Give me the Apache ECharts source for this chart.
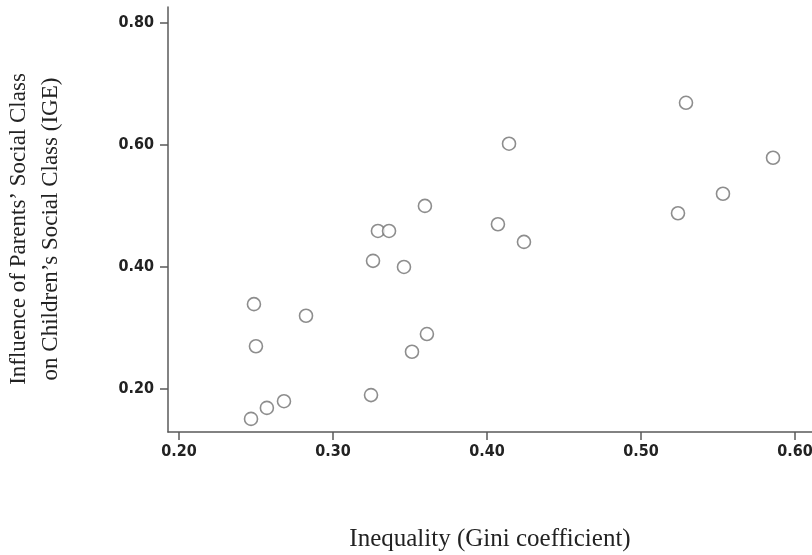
<!DOCTYPE html>
<html><head><meta charset="utf-8">
<script src="https://cdn.jsdelivr.net/npm/echarts@6/dist/echarts.min.js"></script>
<style>html,body{margin:0;padding:0;background:#fff}#c{width:812px;height:555px}</style>
</head><body><div id="c"></div>
<script>
const gini = [0.2487,0.2500,0.2825,0.2468,0.2571,0.2682,0.3247,0.3513,0.3610,0.3260,0.3461,0.3292,0.3364,0.3597,0.4143,0.4071,0.4240,0.5240,0.5292,0.5532,0.5857];
const ige  = [0.339,0.270,0.320,0.151,0.169,0.180,0.190,0.261,0.290,0.410,0.400,0.459,0.459,0.500,0.602,0.470,0.441,0.488,0.669,0.520,0.579];
const xTicks = [0.20,0.30,0.40,0.50,0.60];
const yTicks = [0.20,0.40,0.60,0.80];
const xTitle = 'Inequality (Gini coefficient)';
const yTitle = "Influence of Parents\u2019 Social Class\non Children\u2019s Social Class (IGE)";

const chart = echarts.init(document.getElementById('c'), null, {renderer:'canvas'});
const tickFont = {fontFamily:'"Liberation Sans Narrow","DejaVu Sans Condensed",sans-serif', fontWeight:'bold', fontSize:16, color:'#222'};
const axisLine = {show:true, lineStyle:{color:'#5a5a5a', width:1.5}};
chart.setOption({
  animation:false,
  grid:{left:168, right:0, top:7, bottom:123, containLabel:false, outerBoundsMode:'none'},
  xAxis:{type:'value', min:0.1929, max:0.611,
    axisLine:axisLine, splitLine:{show:false},
    axisTick:{show:true, length:8, customValues:xTicks, lineStyle:{color:'#5a5a5a', width:1.5}},
    axisLabel:Object.assign({customValues:xTicks, margin:12, formatter:v=>v.toFixed(2)}, tickFont),
    name:xTitle, nameLocation:'middle', nameGap:95,
    nameTextStyle:{fontFamily:'"Liberation Serif","Times New Roman",serif', fontSize:25, color:'#222'}
  },
  yAxis:{type:'value', min:0.1295, max:0.826,
    axisLine:axisLine, splitLine:{show:false},
    axisTick:{show:true, length:8, customValues:yTicks, lineStyle:{color:'#5a5a5a', width:1.5}},
    axisLabel:Object.assign({customValues:yTicks, margin:14, formatter:v=>v.toFixed(2)}, tickFont)
  },
  graphic:[{type:'text', x:35, y:229, rotation:Math.PI/2,
    style:{text:yTitle, align:'center', verticalAlign:'middle', lineHeight:32,
      font:'23px "Liberation Serif","Times New Roman",serif', fill:'#222'}}],
  series:[{type:'scatter', data:gini.map((g,i)=>[g,ige[i]]), symbol:'circle', symbolSize:13,
    itemStyle:{color:'#fff', borderColor:'#707070', borderWidth:1.6}}]
});
</script></body></html>
